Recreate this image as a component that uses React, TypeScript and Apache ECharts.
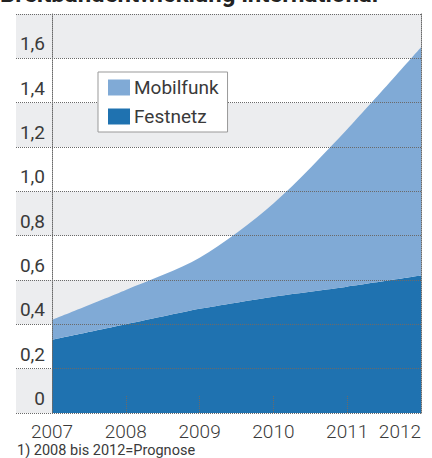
import React, { useEffect, useRef } from "react";
import * as echarts from "echarts";

const years = ["2007", "2008", "2009", "2010", "2011", "2012"];
const festnetz = [0.33, 0.4, 0.47, 0.525, 0.57, 0.62];
const mobilfunk = [0.09, 0.155, 0.23, 0.42, 0.71, 1.03];
const yTickLabels = ["0", "0,2", "0,4", "0,6", "0,8", "1,0", "1,2", "1,4", "1,6", ""];
const titleText = "Breitbandentwicklung international";
const subtitleText = "Breitbandkunden in Milliarden";
const footnoteText = "1) 2008 bis 2012=Prognose";

const FONT = "Roboto, 'Noto Sans', sans-serif";
const TEXT = "#3a3a3a";
const DOT = "#6a6a6a";
const LIGHT = "#80aad6";
const DARK = "#1f72b0";
const BAND = "#ecedef";

export default function App() {
  const ref = useRef<HTMLDivElement>(null);
  useEffect(() => {
    if (!ref.current) return;
    const chart = echarts.init(ref.current, undefined, { renderer: "svg" });
    const dotted = { color: DOT, width: 1, type: [1, 1] as any };
    chart.setOption({
      animation: false,
      textStyle: { fontFamily: FONT },
      grid: [
        { left: 52, right: 11, top: 14, bottom: 45 },
        { left: 16, right: 11, top: 14, bottom: 45 },
      ],
      legend: {
        data: ["Mobilfunk", "Festnetz"],
        orient: "vertical",
        left: 98,
        top: 72,
        padding: [6, 9, 6, 10],
        itemWidth: 22,
        itemHeight: 16,
        itemGap: 10,
        icon: "rect",
        backgroundColor: "#fff",
        borderColor: "#999",
        borderWidth: 1,
        borderRadius: 0,
        textStyle: { fontFamily: FONT, fontSize: 19, color: TEXT, padding: [0, 0, 0, -1] },
      },
      xAxis: [
        {
          gridIndex: 0,
          type: "category",
          data: years,
          boundaryGap: false,
          z: 3,
          axisLine: { show: false },
          axisTick: { show: true, inside: true, length: 18, lineStyle: dotted },
          axisLabel: {
            fontFamily: FONT,
            fontSize: 19,
            fontWeight: 300,
            color: TEXT,
            margin: 9,
            alignMaxLabel: "right",
          },
          splitLine: { show: false },
        },
        { gridIndex: 1, type: "value", min: 0, max: 1, show: false },
      ],
      yAxis: [
        {
          gridIndex: 0,
          type: "value",
          min: 0,
          max: 1.8,
          interval: 0.2,
          z: 3,
          axisLine: { show: true, lineStyle: dotted },
          axisTick: { show: false },
          axisLabel: {
            fontFamily: FONT,
            fontSize: 19,
            color: TEXT,
            margin: 7,
            verticalAlign: "bottom",
            padding: [0, 0, 5, 0],
            formatter: (v: number) => yTickLabels[Math.round(v / 0.2)] ?? "",
          },
          splitLine: { show: true, lineStyle: dotted },
        },
        {
          gridIndex: 0,
          type: "value",
          position: "right",
          min: 0,
          max: 1.8,
          interval: 0.2,
          z: 3,
          axisLine: { show: true, lineStyle: dotted },
          axisTick: { show: false },
          axisLabel: { show: false },
          splitLine: { show: false },
        },
        {
          gridIndex: 1,
          type: "value",
          min: 0,
          max: 1.8,
          interval: 0.2,
          z: 0,
          axisLine: { show: false },
          axisTick: { show: false },
          axisLabel: { show: false },
          splitLine: { show: true, lineStyle: dotted },
          splitArea: { show: true, areaStyle: { color: [BAND, "#ffffff"] } },
        },
      ],
      series: [
        {
          name: "Festnetz",
          type: "line",
          xAxisIndex: 0,
          yAxisIndex: 0,
          stack: "total",
          data: festnetz,
          smooth: 0.2,
          showSymbol: false,
          symbol: "none",
          lineStyle: { width: 0 },
          itemStyle: { color: DARK },
          areaStyle: { color: DARK, opacity: 1 },
          z: 2,
        },
        {
          name: "Mobilfunk",
          type: "line",
          xAxisIndex: 0,
          yAxisIndex: 0,
          stack: "total",
          data: mobilfunk,
          smooth: 0.3,
          showSymbol: false,
          symbol: "none",
          lineStyle: { width: 0 },
          itemStyle: { color: LIGHT },
          areaStyle: { color: LIGHT, opacity: 1 },
          z: 2,
        },
      ],
      graphic: [
        {
          type: "text",
          x: 0,
          y: 6,
          style: {
            text: titleText,
            fontFamily: FONT,
            fontSize: 24,
            fontWeight: "bold",
            fill: "#222",
            verticalAlign: "bottom",
          },
        },
        {
          type: "text",
          x: 218,
          y: 33,
          style: {
            text: subtitleText,
            fontFamily: FONT,
            fontSize: 18.5,
            fill: TEXT,
            align: "center",
            verticalAlign: "middle",
          },
        },
        {
          type: "text",
          x: 17,
          y: 443,
          style: {
            text: footnoteText,
            fontFamily: FONT,
            fontSize: 14.5,
            fill: TEXT,
            align: "left",
            verticalAlign: "top",
          },
        },
      ],
    });
    return () => chart.dispose();
  }, []);
  return (
    <div
      ref={ref}
      style={{ position: "absolute", left: 0, top: 0, width: 432, height: 458 }}
    />
  );
}
